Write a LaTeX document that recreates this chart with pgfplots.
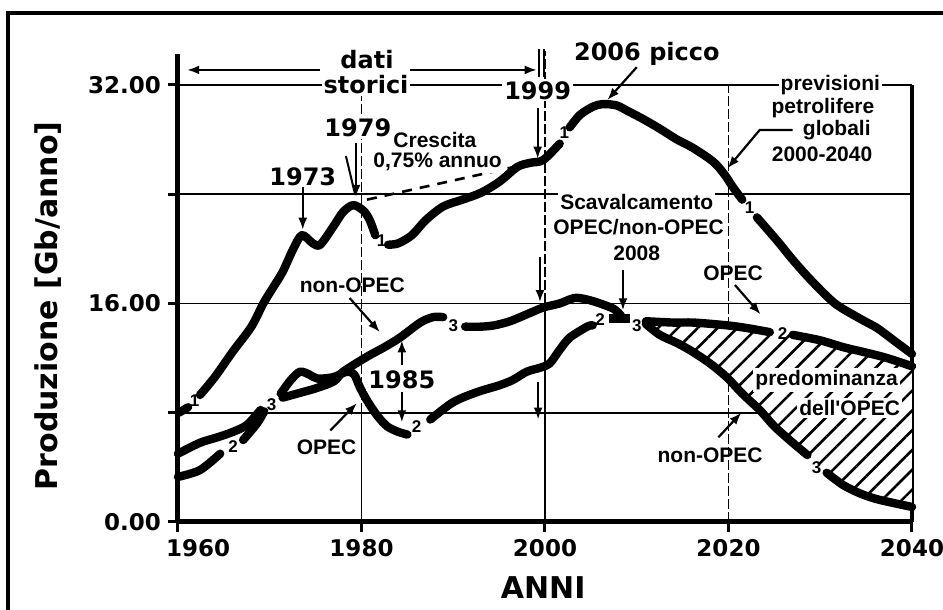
\documentclass[border=0pt]{standalone}
\usepackage{pgfplots}
\pgfplotsset{compat=1.18}
\usepackage{fontspec}
\setmainfont{DejaVu Sans}
\newfontfamily\annfont{Liberation Sans}
\usetikzlibrary{arrows.meta,patterns.meta}

\newcommand\bfont{\fontsize{12}{13}\selectfont\bfseries}
\newcommand\afont{\annfont\fontsize{10.5}{11.5}\selectfont\bfseries}
\newcommand\cfont{\annfont\fontsize{8.5}{9}\selectfont\bfseries}

\tikzset{
  cv/.style={line width=4.2pt, line cap=round, line join=round, black, mark=none},
  ar/.style={line width=1.1pt, -{Latex[length=6pt,width=4.5pt]}},
  gl/.style={line width=0.8pt},
  gd/.style={line width=0.8pt, dash pattern=on 5pt off 1.5pt},
  lb/.style={fill=white, inner sep=1pt, align=center},
}

\begin{document}
\begin{tikzpicture}
\begin{axis}[
  scale only axis, width=367pt, height=234.2pt,
  xmin=1960, xmax=2040, ymin=0, ymax=34.3,
  clip=false,
  axis lines*=left,
  axis line style={line width=2.5pt},
  xtick={1960,1980,2000,2020,2040},
  xticklabels={,1980,2000,2020,2040},
  ytick={0,8,16,24,32},
  yticklabels={0.00,,16.00,,32.00},
  tick align=outside,
  major tick length=5pt,
  tick style={line width=1.5pt, black},
  ymajorgrids, grid style={line width=0.8pt, black},
  tick label style={font=\fontsize{11.5}{12}\selectfont\bfseries},
]

% vertical grid and right border
\draw[gl] (1980,0) -- (1980,8);
\draw[gd] (1980,8) -- (1980,32);
\draw[gl] (2000,0) -- (2000,16);
\draw[gd] (2000,16) -- (2000,34.5);
\draw[gd] (2020,0) -- (2020,32);
\draw[line width=1.6pt] (2040,0) -- (2040,32);

% hatched OPEC predominance area
\addplot[draw=none, fill=white, mark=none] coordinates {
  (2011,14.7) (2014,14.6) (2016.2,14.6) (2019.8,14.4) (2022,14.2) (2024.5,13.9)
  (2026,13.8) (2027,13.7) (2030,13.3) (2032.5,12.8) (2035,12.4) (2037.3,12.0) (2040,11.4)
  (2040,1.1) (2037.9,1.4) (2036,1.7) (2034.3,2.1) (2032.5,2.7) (2030.7,3.6) (2029.6,4.3)
  (2028.6,4.9) (2027,5.8) (2025,7.0) (2023.4,8.2) (2021.5,9.4) (2019.8,10.6) (2018,11.6)
  (2016,12.5) (2014.4,13.1) (2012.5,13.7) (2011,14.5)
};
\addplot[draw=none, mark=none, pattern={Lines[angle=45,distance=7pt,line width=1.3pt]}] coordinates {
  (2011,14.7) (2014,14.6) (2016.2,14.6) (2019.8,14.4) (2022,14.2) (2024.5,13.9)
  (2026,13.8) (2027,13.7) (2030,13.3) (2032.5,12.8) (2035,12.4) (2037.3,12.0) (2040,11.4)
  (2040,1.1) (2037.9,1.4) (2036,1.7) (2034.3,2.1) (2032.5,2.7) (2030.7,3.6) (2029.6,4.3)
  (2028.6,4.9) (2027,5.8) (2025,7.0) (2023.4,8.2) (2021.5,9.4) (2019.8,10.6) (2018,11.6)
  (2016,12.5) (2014.4,13.1) (2012.5,13.7) (2011,14.5)
};

% curve 1: world production
\addplot[cv] coordinates {(1960.1,8.0) (1961.1,8.4)};
\addplot[cv, smooth] coordinates {
  (1962.4,9.3) (1964,10.6) (1966,12.5) (1968,14.3) (1969.3,16.0) (1970.3,17.1)
  (1971.4,18.3) (1972.5,19.9) (1973.5,21.0) (1974.7,20.4) (1975.5,20.3) (1976.9,21.6)
  (1978,22.7) (1979.1,23.2) (1980.2,22.8) (1980.9,22.1) (1981.5,21.0)
};
\addplot[cv, smooth] coordinates {
  (1982.9,20.3) (1984,20.4) (1985.5,21.0) (1987,22.1) (1988.9,23.1) (1991,23.6)
  (1993,24.1) (1995,24.9) (1997,26.0) (1998.4,26.3) (1999.8,26.5) (2001.6,27.7)
};
\addplot[cv, smooth] coordinates {
  (2002.7,28.9) (2003.8,29.8) (2005.2,30.4) (2006.3,30.6) (2007.8,30.5) (2009,30.1)
  (2010.7,29.5) (2012.5,28.8) (2014.4,28.0) (2016.1,27.4) (2018.3,26.4) (2019.5,25.5)
  (2020.5,24.5) (2021.5,23.6)
};
\addplot[cv, smooth] coordinates {
  (2023.1,22.3) (2025.3,20.6) (2027,19.2) (2029,17.7) (2031.6,16.0) (2034.3,14.9)
  (2036.2,14.2) (2038,13.3) (2040,12.3)
};

% curve 2: OPEC
\addplot[cv, smooth] coordinates {(1960,3.3) (1962.4,3.8) (1964.6,5.0)};
\addplot[cv, smooth] coordinates {(1967.1,6.0) (1968.6,7.2) (1969.4,8.1)};
\addplot[cv, smooth] coordinates {
  (1971.2,9.4) (1972.3,10.4) (1973.3,11.0) (1974.3,10.8) (1975.2,10.5) (1976.9,10.6)
  (1978.4,11.0) (1979.2,10.8) (1979.8,9.9) (1980.6,8.9) (1981.7,7.8) (1982.8,7.0)
  (1984,6.6) (1985,6.4)
};
\addplot[cv, smooth] coordinates {
  (1987.5,7.5) (1989.6,8.6) (1991,9.1) (1993,9.6) (1995,10.0) (1996.5,10.4) (1998,11.0)
  (1999.5,11.3) (2000.5,11.6) (2001.6,12.6) (2002.7,13.5) (2004.6,14.3) (2005.2,14.4)
};
\addplot[cv, line cap=butt, line width=4.8pt] coordinates {(2007,14.9) (2009.3,14.9)};
\addplot[cv, smooth] coordinates {
  (2011,14.7) (2014,14.6) (2016.2,14.6) (2019.8,14.4) (2022,14.2) (2024.5,13.9)
};
\addplot[cv, smooth] coordinates {
  (2027,13.7) (2030,13.3) (2032.5,12.8) (2035,12.4) (2037.3,12.0) (2040,11.4)
};

% curve 3: non-OPEC
\addplot[cv, smooth] coordinates {
  (1960,5.0) (1962.4,5.8) (1964.3,6.2) (1966,6.6) (1967.5,7.1) (1969,8.2)
};
\addplot[cv, smooth] coordinates {
  (1971.4,9.1) (1973,9.4) (1975.1,9.8) (1977,10.3) (1978,11.0) (1980.6,12.1)
  (1982.5,12.8) (1984.2,13.5) (1986.4,14.6) (1987.8,15.0) (1988.9,15.0)
};
\addplot[cv, smooth] coordinates {
  (1991.3,14.3) (1993,14.3) (1994.5,14.4) (1996.2,14.7) (1998,15.2) (1999.8,15.7)
  (2001.6,16.0) (2003.2,16.4) (2004.5,16.3) (2006,16.0) (2007.5,15.6) (2008.3,15.1)
};
\addplot[cv, smooth] coordinates {
  (2011,14.5) (2012.5,13.7) (2014.4,13.1) (2016,12.5) (2018,11.6) (2019.8,10.6)
  (2021.5,9.4) (2023.4,8.2) (2025,7.0) (2027,5.8) (2028.6,4.9)
};
\addplot[cv, smooth] coordinates {
  (2030.7,3.6) (2032.5,2.7) (2034.3,2.1) (2036,1.7) (2037.9,1.4) (2040,1.1)
};

% curve numbers
\node[font=\cfont] at (1961.8,8.9) {1};
\node[font=\cfont] at (1982.2,20.6) {1};
\node[font=\cfont] at (2002.1,28.5) {1};
\node[font=\cfont] at (2022.3,23.0) {1};
\node[font=\cfont] at (1966,5.5) {2};
\node[font=\cfont] at (1986,7.0) {2};
\node[font=\cfont] at (2006,14.8) {2};
\node[font=\cfont] at (2025.9,13.8) {2};
\node[font=\cfont] at (1970.2,8.6) {3};
\node[font=\cfont] at (1990,14.4) {3};
\node[font=\cfont] at (2010,14.4) {3};
\node[font=\cfont] at (2029.6,4.0) {3};

% historical data arrows
\draw[ar] (1975.5,33.1) -- (1961.0,33.1);
\draw[ar] (1985.3,33.1) -- (1999.1,33.1);
\draw[line width=1pt] (1999.3,34.6) -- (1999.3,32.6);
\draw[line width=1pt] (1999.9,34.6) -- (1999.9,32.6);
\node[lb, font=\bfont] at (1980.6,33.85) {dati};
\node[lb, font=\bfont] at (1980.5,32.0) {storici};
\node[lb, font=\bfont] at (1999.2,31.6) {1999};
\draw[ar] (1999.2,30.3) -- (1999.2,26.6);

\node[lb, font=\bfont] at (1979.6,28.85) {1979};
\draw[ar] (1979.4,27.75) -- (1979.4,23.8);
\draw[line width=1pt] (1978.3,26.8) -- (1979.3,24.0);
\node[lb, font=\bfont] at (1973.6,25.3) {1973};
\draw[ar] (1973.6,24.5) -- (1973.6,21.4);

\draw[line width=1.3pt, dash pattern=on 5pt off 4pt] (1980.6,23.6) -- (1998,26.2);
\node[lb, font=\afont] at (1988,28.0) {Crescita};
\node[lb, font=\afont] at (1988.3,26.35) {0,75\% annuo};

\node[font=\bfont] at (2011.1,34.3) {2006 picco};
\draw[ar] (2010,33.3) -- (2006.8,30.9);

\node[lb, font=\afont] at (2031.1,32.0) {previsioni};
\node[font=\afont] at (2030.3,30.3) {petrolifere};
\node[font=\afont] at (2031.8,28.7) {globali};
\node[font=\afont] at (2030.2,26.9) {2000-2040};
\draw[line width=1.1pt, -{Latex[length=6pt,width=4.5pt]}] (2027.0,28.7) -- (2023.4,28.7) -- (2019.9,25.9);

\node[lb, font=\afont] at (2010,23.45) {Scavalcamento};
\node[lb, font=\afont] at (2010.2,21.6) {OPEC/non-OPEC};
\node[lb, font=\afont] at (2010,19.7) {2008};
\draw[ar] (2008.5,18.45) -- (2008.5,15.5);
\draw[ar] (1999.45,19.4) -- (1999.45,16.1);
\draw[ar] (1999.25,10.25) -- (1999.25,7.5);

\node[font=\afont] at (1979.0,17.35) {non-OPEC};
\draw[ar] (1978.7,16.4) -- (1982.0,13.9);
\node[lb, font=\bfont] at (1984.4,10.4) {1985};
\draw[ar] (1984.4,11.5) -- (1984.4,13.3);
\draw[ar] (1984.4,9.5) -- (1984.4,7.3);
\node[font=\afont] at (1976.2,5.5) {OPEC};
\draw[ar] (1976.6,6.7) -- (1979.5,8.7);

\node[font=\afont] at (2020.5,18.2) {OPEC};
\draw[ar] (2020.7,17.35) -- (2023.5,15.2);
\node[lb, font=\afont] at (2030.7,10.4) {predominanza};
\node[lb, font=\afont] at (2033.2,8.35) {dell'OPEC};
\node[font=\afont] at (2018,4.9) {non-OPEC};
\draw[ar] (2018.9,6.2) -- (2021.4,8.0);

% axis titles and the offset 1960 label
\node[anchor=north, yshift=-5pt, font=\fontsize{11.5}{12}\selectfont\bfseries] at (1962.2,0) {1960};
\node[font=\fontsize{15}{16}\selectfont\bfseries] at (1999.8,-4.83) {ANNI};
\node[rotate=90, font=\fontsize{15}{16}\selectfont\bfseries] at (1945.83,15.82) {Produzione [Gb/anno]};

% outer frame (cut at right and bottom)
\draw[line width=2.3pt] (1941.47,-7) -- (1941.47,37.27) -- (2044,37.27);
\coordinate (BL) at (1940.6,-6.44);
\coordinate (TR) at (2043.38,38.22);
\end{axis}
\pgfresetboundingbox
\useasboundingbox (BL) rectangle (TR);
\end{tikzpicture}
\end{document}
